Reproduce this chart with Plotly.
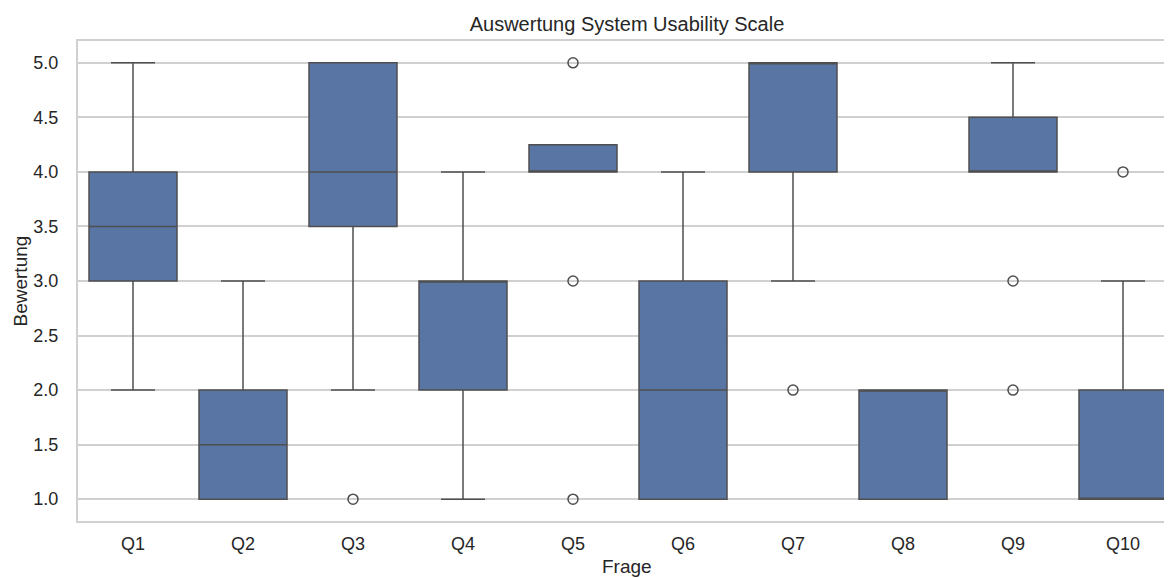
import plotly.graph_objects as go

categories = ["Q1", "Q2", "Q3", "Q4", "Q5", "Q6", "Q7", "Q8", "Q9", "Q10"]
q1 = [3.0, 1.0, 3.5, 2.0, 4.0, 1.0, 4.0, 1.0, 4.0, 1.0]
median = [3.5, 1.5, 4.0, 3.0, 4.0, 2.0, 5.0, 2.0, 4.0, 1.0]
q3 = [4.0, 2.0, 5.0, 3.0, 4.25, 3.0, 5.0, 2.0, 4.5, 2.0]
lower_whisker = [2.0, 1.0, 2.0, 1.0, 4.0, 1.0, 3.0, 1.0, 4.0, 1.0]
upper_whisker = [5.0, 3.0, 5.0, 4.0, 4.25, 4.0, 5.0, 2.0, 5.0, 3.0]
outlier_x = ["Q3", "Q5", "Q5", "Q5", "Q7", "Q9", "Q9", "Q10"]
outlier_y = [1.0, 5.0, 3.0, 1.0, 2.0, 3.0, 2.0, 4.0]

title_text = "Auswertung System Usability Scale"
x_label = "Frage"
y_label = "Bewertung"
y_ticks = [1.0, 1.5, 2.0, 2.5, 3.0, 3.5, 4.0, 4.5, 5.0]

FILL = "#5975a4"
EDGE = "#4f4f4f"
GRID = "#d0d0d0"
TEXT = "#262626"
FONT = "Liberation Sans, Arial, sans-serif"

fig = go.Figure()
fig.add_trace(go.Box(
    x=categories,
    q1=q1, median=median, q3=q3,
    lowerfence=lower_whisker, upperfence=upper_whisker,
    fillcolor=FILL,
    line=dict(color=EDGE, width=1.5),
    width=0.8,
    whiskerwidth=0.5,
    boxpoints=False,
    showlegend=False,
    hoverinfo="skip",
))
fig.add_trace(go.Scatter(
    x=outlier_x, y=outlier_y,
    mode="markers",
    marker=dict(symbol="circle-open", size=10, color=EDGE, line=dict(width=1.5, color=EDGE)),
    showlegend=False,
    hoverinfo="skip",
))

# page body has an 8px default margin; compensate so the figure fills the window
OFF = 8
W, H = 1172 - OFF, 578 - OFF
ml, mr, mt, mb = 78 - OFF, 0, 41 - OFF, 57
plot_w = W - ml - mr
plot_h = H - mt - mb
x_hi = plot_w / 110.0 - 0.5

fig.update_layout(
    width=W, height=H,
    margin=dict(l=ml, r=mr, t=mt, b=mb, pad=0),
    paper_bgcolor="white",
    plot_bgcolor="white",
    font=dict(family=FONT, color=TEXT, size=18),
    title=dict(text=title_text, x=((469 + 785) / 2 - OFF) / W, xanchor="center",
               y=1 - (31 - OFF) / H, yanchor="bottom", yref="container",
               font=dict(size=20, color=TEXT, family=FONT)),
    xaxis=dict(
        type="category",
        categoryorder="array", categoryarray=categories,
        range=[-0.5, x_hi],
        showgrid=False,
        showline=True, mirror=True, linecolor=GRID, linewidth=2,
        ticks="", ticklabelstandoff=5,
        tickfont=dict(size=18, color=TEXT, family=FONT),
        zeroline=False,
    ),
    yaxis=dict(
        range=[0.8, 5.2],
        tickvals=y_ticks,
        ticktext=[f"{v:.1f}" for v in y_ticks],
        showgrid=True, gridcolor=GRID, gridwidth=1.5,
        showline=True, mirror=False, linecolor=GRID, linewidth=2,
        ticks="", ticklabelstandoff=14,
        tickfont=dict(size=18, color=TEXT, family=FONT),
        zeroline=False,
    ),
    annotations=[
        dict(text=x_label, xref="paper", yref="paper",
             x=(627 - 78) / plot_w, y=-(566 - 521) / plot_h,
             xanchor="center", yanchor="middle", showarrow=False,
             font=dict(size=19, color=TEXT, family=FONT)),
        dict(text=y_label, xref="paper", yref="paper",
             x=-(78 - 19.5) / plot_w, y=0.5,
             xanchor="center", yanchor="middle", showarrow=False, textangle=-90,
             font=dict(size=19, color=TEXT, family=FONT)),
    ],
)

fig.write_html("out.html")
